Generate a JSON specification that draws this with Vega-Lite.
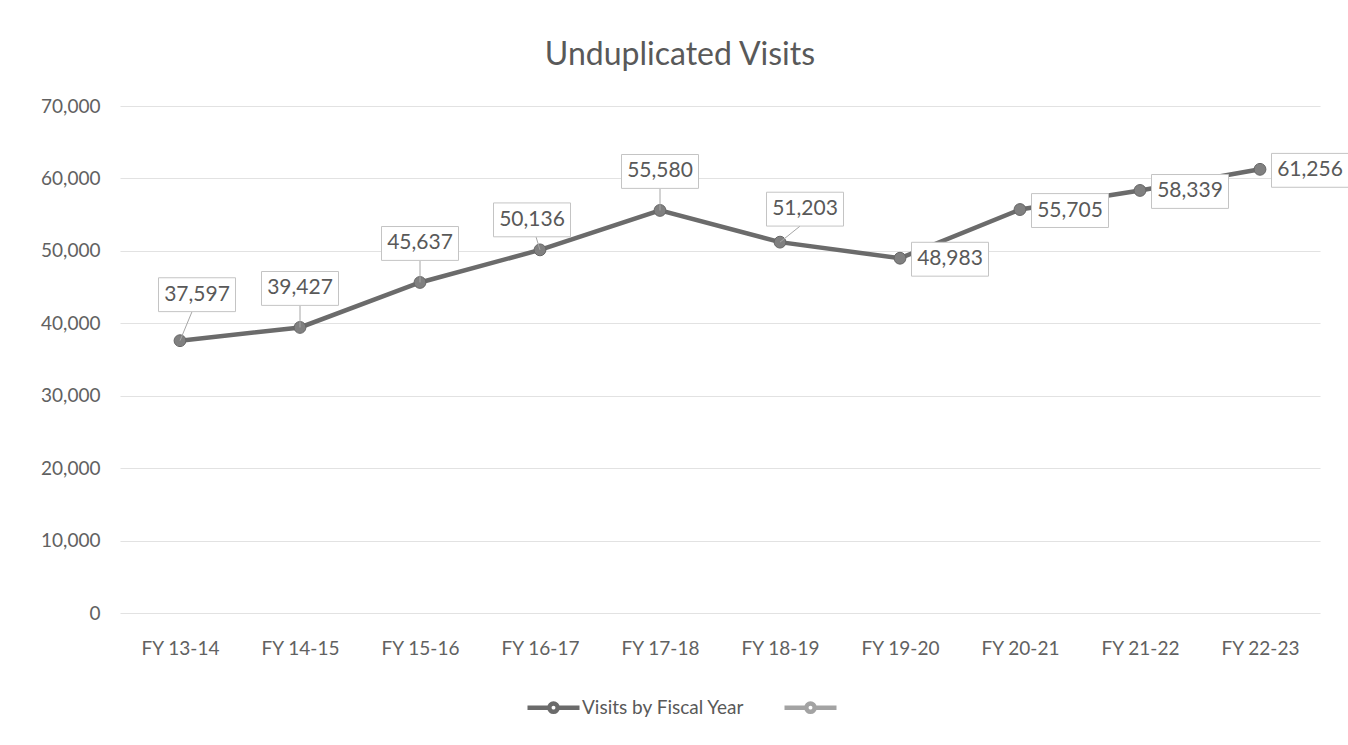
{
  "$schema": "https://vega.github.io/schema/vega-lite/v6.json",
  "width": 1200,
  "height": 507,
  "autosize": {"type": "none"},
  "padding": {"left": 120, "top": 106, "right": 28, "bottom": 132},
  "background": "white",
  "config": {
    "view": {"stroke": null},
    "font": "Lato",
    "axis": {"labelFont": "Lato", "labelColor": "#616161", "labelFontSize": 19, "titleFont": "Lato"},
    "legend": {"labelFont": "Lato"}
  },
  "title": {
    "text": "Unduplicated Visits",
    "font": "Lato",
    "fontSize": 32,
    "fontWeight": "normal",
    "color": "#595959",
    "anchor": "middle",
    "dx": -40,
    "offset": 25
  },
  "data": {
    "values": [
      {"FY": "FY 13-14", "Visits": 37597},
      {"FY": "FY 14-15", "Visits": 39427},
      {"FY": "FY 15-16", "Visits": 45637},
      {"FY": "FY 16-17", "Visits": 50136},
      {"FY": "FY 17-18", "Visits": 55580},
      {"FY": "FY 18-19", "Visits": 51203},
      {"FY": "FY 19-20", "Visits": 48983},
      {"FY": "FY 20-21", "Visits": 55705},
      {"FY": "FY 21-22", "Visits": 58339},
      {"FY": "FY 22-23", "Visits": 61256}
    ]
  },
  "encoding": {
    "x": {
      "field": "FY", "type": "ordinal", "sort": null,
      "scale": {"type": "point", "padding": 0.5},
      "axis": {"title": null, "labelAngle": 0, "ticks": false, "domain": false, "labelPadding": 26, "grid": false}
    },
    "y": {
      "field": "Visits", "type": "quantitative",
      "scale": {"domain": [0, 70000], "nice": false},
      "axis": {"title": null, "values": [0, 10000, 20000, 30000, 40000, 50000, 60000, 70000], "format": ",.0f", "ticks": false, "domain": false, "labelPadding": 20, "gridColor": "#e2e2e2", "gridWidth": 1.2}
    }
  },
  "layer": [
    {
      "mark": {"type": "line", "strokeWidth": 4.5},
      "encoding": {
        "color": {
          "datum": "Visits by Fiscal Year",
          "scale": {"domain": ["Visits by Fiscal Year", " "], "range": ["#6b6b6b", "#a3a3a3"]},
          "legend": {
            "title": null,
            "orient": "none",
            "direction": "horizontal",
            "legendX": 405,
            "legendY": 573,
            "symbolType": "M-1,0L-0.16,0M0.16,0L1,0M0.16,0A0.16,0.16 0 1,1 -0.16,0A0.16,0.16 0 1,1 0.16,0",
            "symbolSize": 2704,
            "symbolStrokeWidth": 4.5,
            "labelFontSize": 19,
            "labelColor": "#595959",
            "labelOffset": 0,
            "labelLimit": 400,
            "columnPadding": 30
          }
        }
      }
    },
    {
      "mark": {"type": "point", "filled": true, "size": 140, "fill": "#808080", "stroke": "#666666", "strokeWidth": 1, "opacity": 1}
    },
    {
      "transform": [{"filter": {"field": "FY", "oneOf": ["FY 14-15", "FY 15-16", "FY 17-18"]}}],
      "layer": [
        {"mark": {"type": "rule", "color": "#a6a6a6", "strokeWidth": 1, "y2Offset": -22, "x2Offset": 0},
         "encoding": {"x2": {"field": "FY"}, "y2": {"field": "Visits"}}},
        {"mark": {"type": "point", "shape": "M-1,-0.44L1,-0.44L1,0.44L-1,0.44Z", "size": 5929, "filled": true, "fill": "white", "stroke": "#c4c4c4", "strokeWidth": 1, "opacity": 1, "yOffset": -39}},
        {"mark": {"type": "text", "font": "Lato", "fontSize": 21, "color": "#595959", "dy": -39, "align": "center", "baseline": "middle"},
         "encoding": {"text": {"field": "Visits", "type": "quantitative", "format": ",.0f"}}}
      ]
    },
    {
      "transform": [{"filter": {"field": "FY", "equal": "FY 13-14"}}],
      "layer": [
        {"mark": {"type": "rule", "color": "#a6a6a6", "strokeWidth": 1, "y2Offset": -29, "x2Offset": 12},
         "encoding": {"x2": {"field": "FY"}, "y2": {"field": "Visits"}}},
        {"mark": {"type": "point", "shape": "M-1,-0.44L1,-0.44L1,0.44L-1,0.44Z", "size": 5929, "filled": true, "fill": "white", "stroke": "#c4c4c4", "strokeWidth": 1, "opacity": 1, "xOffset": 17, "yOffset": -46}},
        {"mark": {"type": "text", "font": "Lato", "fontSize": 21, "color": "#595959", "dx": 17, "dy": -46, "align": "center", "baseline": "middle"},
         "encoding": {"text": {"field": "Visits", "type": "quantitative", "format": ",.0f"}}}
      ]
    },
    {
      "transform": [{"filter": {"field": "FY", "equal": "FY 16-17"}}],
      "layer": [
        {"mark": {"type": "rule", "color": "#a6a6a6", "strokeWidth": 1, "y2Offset": -13, "x2Offset": -4},
         "encoding": {"x2": {"field": "FY"}, "y2": {"field": "Visits"}}},
        {"mark": {"type": "point", "shape": "M-1,-0.44L1,-0.44L1,0.44L-1,0.44Z", "size": 5929, "filled": true, "fill": "white", "stroke": "#c4c4c4", "strokeWidth": 1, "opacity": 1, "xOffset": -8, "yOffset": -30}},
        {"mark": {"type": "text", "font": "Lato", "fontSize": 21, "color": "#595959", "dx": -8, "dy": -30, "align": "center", "baseline": "middle"},
         "encoding": {"text": {"field": "Visits", "type": "quantitative", "format": ",.0f"}}}
      ]
    },
    {
      "transform": [{"filter": {"field": "FY", "equal": "FY 18-19"}}],
      "layer": [
        {"mark": {"type": "rule", "color": "#a6a6a6", "strokeWidth": 1, "y2Offset": -16, "x2Offset": 20},
         "encoding": {"x2": {"field": "FY"}, "y2": {"field": "Visits"}}},
        {"mark": {"type": "point", "shape": "M-1,-0.44L1,-0.44L1,0.44L-1,0.44Z", "size": 5929, "filled": true, "fill": "white", "stroke": "#c4c4c4", "strokeWidth": 1, "opacity": 1, "xOffset": 25, "yOffset": -33}},
        {"mark": {"type": "text", "font": "Lato", "fontSize": 21, "color": "#595959", "dx": 25, "dy": -33, "align": "center", "baseline": "middle"},
         "encoding": {"text": {"field": "Visits", "type": "quantitative", "format": ",.0f"}}}
      ]
    },
    {
      "transform": [{"filter": {"field": "FY", "oneOf": ["FY 19-20", "FY 20-21", "FY 21-22", "FY 22-23"]}}],
      "layer": [
        {"mark": {"type": "point", "shape": "M-1,-0.44L1,-0.44L1,0.44L-1,0.44Z", "size": 5929, "filled": true, "fill": "white", "stroke": "#c4c4c4", "strokeWidth": 1, "opacity": 1, "xOffset": 50, "yOffset": 1}},
        {"mark": {"type": "text", "font": "Lato", "fontSize": 21, "color": "#595959", "dx": 50, "dy": 1, "align": "center", "baseline": "middle"},
         "encoding": {"text": {"field": "Visits", "type": "quantitative", "format": ",.0f"}}}
      ]
    }
  ]
}
